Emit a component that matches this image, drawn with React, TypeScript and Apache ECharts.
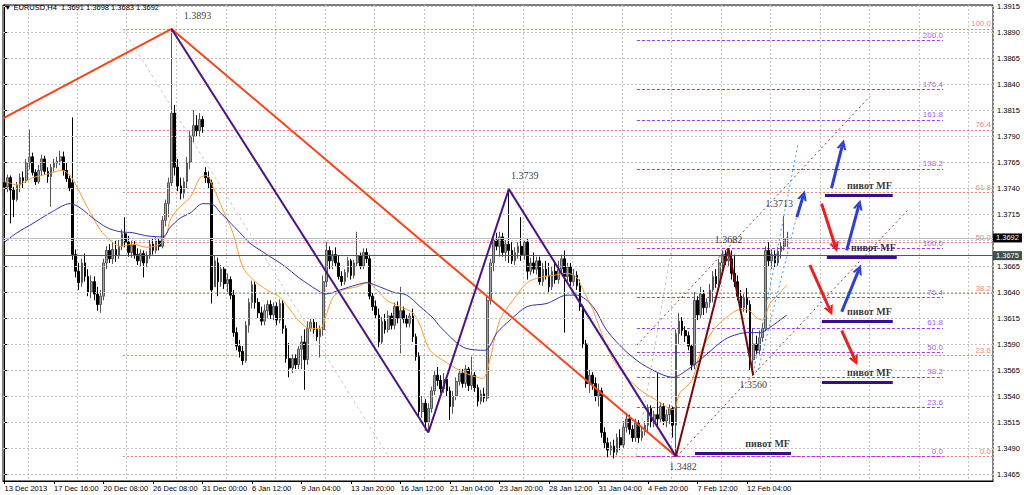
import React, { useEffect, useRef } from "react";
import * as echarts from "echarts";

// ---------- data ----------
const SYMBOL = "EURUSD,H4";
const TIME_LABELS = [
  "13 Dec 2013", "17 Dec 16:00", "20 Dec 08:00", "26 Dec 08:00", "31 Dec 00:00",
  "6 Jan 12:00", "9 Jan 04:00", "13 Jan 20:00", "16 Jan 12:00", "21 Jan 04:00",
  "23 Jan 20:00", "28 Jan 12:00", "31 Jan 04:00", "4 Feb 20:00", "7 Feb 12:00", "12 Feb 04:00",
];
const BARS_PER_LABEL = 16;
const SLOT_COUNT = 320;
const PRICE_TICKS = [
  1.3915, 1.389, 1.3865, 1.384, 1.3815, 1.379, 1.3765, 1.374, 1.3715, 1.369,
  1.3665, 1.364, 1.3615, 1.359, 1.3565, 1.354, 1.3515, 1.349, 1.3465,
];
const BID = 1.3692;
const HLINE = 1.3675;

// [open, close, low, high]
const CANDLES = [
  [1.3745,1.3741,1.3736,1.3748],[1.3741,1.3750,1.3736,1.3753],[1.3750,1.3738,1.3706,1.3752],[1.3738,1.3729,1.3712,1.3741],
  [1.3729,1.3743,1.3727,1.3746],[1.3743,1.3750,1.3736,1.3754],[1.3750,1.3747,1.3740,1.3756],[1.3747,1.3764,1.3745,1.3768],
  [1.3764,1.3770,1.3758,1.3796],[1.3770,1.3755,1.3752,1.3774],[1.3755,1.3746,1.3743,1.3758],[1.3746,1.3757,1.3744,1.3762],
  [1.3757,1.3768,1.3752,1.3772],[1.3768,1.3756,1.3753,1.3771],[1.3756,1.3751,1.3745,1.3760],[1.3751,1.3760,1.3722,1.3763],
  [1.3760,1.3764,1.3756,1.3768],[1.3764,1.3766,1.3759,1.3770],[1.3766,1.3770,1.3762,1.3776],[1.3770,1.3757,1.3752,1.3775],
  [1.3757,1.3749,1.3746,1.3764],[1.3749,1.3740,1.3737,1.3752],[1.3745,1.3676,1.3671,1.3808],[1.3676,1.3660,1.3654,1.3681],
  [1.3660,1.3649,1.3642,1.3668],[1.3649,1.3668,1.3645,1.3672],[1.3668,1.3655,1.3650,1.3677],[1.3655,1.3640,1.3636,1.3662],
  [1.3640,1.3650,1.3634,1.3656],[1.3650,1.3638,1.3632,1.3655],[1.3638,1.3628,1.3622,1.3645],[1.3628,1.3636,1.3620,1.3642],
  [1.3636,1.3668,1.3632,1.3672],[1.3668,1.3680,1.3662,1.3684],[1.3680,1.3672,1.3668,1.3686],[1.3672,1.3681,1.3667,1.3688],
  [1.3681,1.3675,1.3669,1.3690],[1.3675,1.3684,1.3672,1.3690],[1.3684,1.3696,1.3680,1.3700],[1.3696,1.3688,1.3683,1.3712],
  [1.3688,1.3678,1.3674,1.3694],[1.3678,1.3685,1.3673,1.3690],[1.3685,1.3676,1.3672,1.3689],[1.3676,1.3670,1.3666,1.3682],
  [1.3670,1.3677,1.3665,1.3681],[1.3677,1.3668,1.3654,1.3680],[1.3668,1.3675,1.3664,1.3679],[1.3675,1.3686,1.3672,1.3690],
  [1.3686,1.3680,1.3676,1.3691],[1.3680,1.3689,1.3677,1.3693],[1.3689,1.3684,1.3680,1.3692],[1.3684,1.3709,1.3682,1.3713],
  [1.3709,1.3725,1.3703,1.3729],[1.3725,1.3745,1.3712,1.3750],[1.3745,1.3812,1.3742,1.3893],[1.3812,1.3760,1.3752,1.3820],
  [1.3760,1.3742,1.3737,1.3768],[1.3742,1.3735,1.3729,1.3750],[1.3735,1.3746,1.3730,1.3750],[1.3746,1.3765,1.3740,1.3770],
  [1.3765,1.3790,1.3758,1.3795],[1.3790,1.3800,1.3784,1.3815],[1.3800,1.3795,1.3790,1.3810],[1.3795,1.3806,1.3789,1.3812],
  [1.3806,1.3799,1.3793,1.3809],[1.3755,1.3750,1.3745,1.3760],[1.3750,1.3745,1.3740,1.3756],[1.3745,1.3642,1.3629,1.3748],
  [1.3645,1.3670,1.3645,1.3675],[1.3668,1.3650,1.3636,1.3673],[1.3650,1.3662,1.3645,1.3666],[1.3662,1.3648,1.3643,1.3665],
  [1.3648,1.3652,1.3640,1.3658],[1.3652,1.3637,1.3633,1.3655],[1.3637,1.3601,1.3597,1.3642],[1.3601,1.3588,1.3584,1.3606],
  [1.3588,1.3583,1.3577,1.3594],[1.3583,1.3574,1.3570,1.3588],[1.3574,1.3608,1.3572,1.3612],[1.3608,1.3630,1.3601,1.3634],
  [1.3630,1.3647,1.3624,1.3651],[1.3647,1.3630,1.3624,1.3650],[1.3630,1.3620,1.3615,1.3634],[1.3620,1.3612,1.3608,1.3626],
  [1.3612,1.3622,1.3608,1.3628],[1.3622,1.3628,1.3614,1.3632],[1.3628,1.3618,1.3614,1.3632],[1.3618,1.3626,1.3613,1.3630],
  [1.3626,1.3613,1.3608,1.3630],[1.3613,1.3629,1.3610,1.3633],[1.3629,1.3605,1.3600,1.3632],[1.3605,1.3576,1.3572,1.3608],
  [1.3576,1.3567,1.3558,1.3591],[1.3567,1.3576,1.3562,1.3580],[1.3576,1.3570,1.3566,1.3580],[1.3570,1.3585,1.3566,1.3588],
  [1.3585,1.3592,1.3566,1.3598],[1.3592,1.3575,1.3546,1.3604],[1.3575,1.3605,1.3570,1.3612],[1.3605,1.3611,1.3602,1.3614],
  [1.3611,1.3604,1.3600,1.3614],[1.3604,1.3597,1.3593,1.3611],[1.3597,1.3604,1.3577,1.3608],[1.3604,1.3650,1.3598,1.3656],
  [1.3650,1.3680,1.3645,1.3688],[1.3680,1.3670,1.3662,1.3684],[1.3670,1.3676,1.3662,1.3680],[1.3676,1.3668,1.3664,1.3683],
  [1.3668,1.3655,1.3652,1.3675],[1.3655,1.3650,1.3646,1.3660],[1.3650,1.3659,1.3647,1.3662],[1.3659,1.3670,1.3654,1.3674],
  [1.3670,1.3656,1.3652,1.3672],[1.3656,1.3668,1.3653,1.3671],[1.3668,1.3675,1.3664,1.3698],[1.3675,1.3665,1.3662,1.3678],
  [1.3665,1.3678,1.3662,1.3682],[1.3678,1.3672,1.3668,1.3682],[1.3672,1.3636,1.3633,1.3676],[1.3636,1.3626,1.3622,1.3640],
  [1.3626,1.3618,1.3614,1.3632],[1.3618,1.3592,1.3587,1.3624],[1.3592,1.3612,1.3590,1.3616],[1.3612,1.3604,1.3600,1.3619],
  [1.3604,1.3617,1.3601,1.3622],[1.3617,1.3608,1.3604,1.3620],[1.3608,1.3626,1.3604,1.3630],[1.3626,1.3615,1.3610,1.3631],
  [1.3615,1.3622,1.3581,1.3645],[1.3622,1.3614,1.3610,1.3626],[1.3614,1.3610,1.3606,1.3618],[1.3610,1.3617,1.3606,1.3620],
  [1.3617,1.3597,1.3592,1.3624],[1.3597,1.3578,1.3574,1.3600],[1.3578,1.3525,1.3520,1.3582],[1.3525,1.3533,1.3519,1.3540],
  [1.3533,1.3515,1.3507,1.3537],[1.3515,1.3528,1.3505,1.3533],[1.3528,1.3545,1.3524,1.3549],[1.3545,1.3560,1.3541,1.3564],
  [1.3560,1.3555,1.3550,1.3568],[1.3555,1.3547,1.3543,1.3560],[1.3547,1.3556,1.3543,1.3562],[1.3556,1.3545,1.3540,1.3559],
  [1.3545,1.3530,1.3517,1.3549],[1.3530,1.3540,1.3523,1.3545],[1.3540,1.3554,1.3536,1.3558],[1.3554,1.3562,1.3550,1.3566],
  [1.3562,1.3552,1.3548,1.3566],[1.3552,1.3566,1.3548,1.3570],[1.3566,1.3550,1.3545,1.3568],[1.3550,1.3560,1.3546,1.3578],
  [1.3560,1.3548,1.3544,1.3563],[1.3548,1.3535,1.3530,1.3551],[1.3535,1.3542,1.3532,1.3546],[1.3542,1.3538,1.3534,1.3548],
  [1.3538,1.3632,1.3535,1.3636],[1.3632,1.3668,1.3628,1.3672],[1.3668,1.3690,1.3660,1.3695],[1.3690,1.3684,1.3680,1.3697],
  [1.3684,1.3693,1.3674,1.3698],[1.3693,1.3678,1.3674,1.3697],[1.3678,1.3686,1.3670,1.3690],[1.3686,1.3680,1.3668,1.3739],
  [1.3680,1.3670,1.3667,1.3688],[1.3670,1.3678,1.3666,1.3683],[1.3678,1.3684,1.3672,1.3688],[1.3684,1.3676,1.3670,1.3712],
  [1.3676,1.3688,1.3671,1.3690],[1.3688,1.3660,1.3652,1.3692],[1.3660,1.3668,1.3656,1.3673],[1.3668,1.3662,1.3658,1.3678],
  [1.3662,1.3670,1.3657,1.3674],[1.3670,1.3650,1.3647,1.3674],[1.3650,1.3662,1.3646,1.3668],[1.3662,1.3656,1.3652,1.3670],
  [1.3656,1.3645,1.3640,1.3668],[1.3645,1.3660,1.3642,1.3664],[1.3660,1.3652,1.3648,1.3668],[1.3652,1.3662,1.3648,1.3670],
  [1.3662,1.3672,1.3658,1.3676],[1.3672,1.3655,1.3601,1.3680],[1.3655,1.3664,1.3650,1.3668],[1.3664,1.3650,1.3646,1.3668],
  [1.3650,1.3656,1.3646,1.3662],[1.3656,1.3646,1.3642,1.3660],[1.3646,1.3626,1.3622,1.3652],[1.3626,1.3590,1.3586,1.3628],
  [1.3590,1.3552,1.3548,1.3594],[1.3552,1.3560,1.3543,1.3565],[1.3560,1.3552,1.3546,1.3563],[1.3552,1.3540,1.3535,1.3558],
  [1.3540,1.3545,1.3530,1.3552],[1.3545,1.3505,1.3500,1.3548],[1.3505,1.3495,1.3490,1.3510],[1.3495,1.3488,1.3481,1.3500],
  [1.3488,1.3492,1.3483,1.3496],[1.3492,1.3486,1.3480,1.3498],[1.3486,1.3500,1.3483,1.3504],[1.3500,1.3493,1.3488,1.3508],
  [1.3493,1.3510,1.3490,1.3516],[1.3510,1.3518,1.3505,1.3524],[1.3518,1.3508,1.3503,1.3522],[1.3508,1.3500,1.3496,1.3512],
  [1.3500,1.3514,1.3496,1.3518],[1.3514,1.3500,1.3495,1.3517],[1.3500,1.3506,1.3497,1.3510],[1.3506,1.3512,1.3502,1.3516],
  [1.3512,1.3528,1.3505,1.3532],[1.3528,1.3515,1.3510,1.3531],[1.3515,1.3522,1.3510,1.3526],[1.3522,1.3518,1.3510,1.3562],
  [1.3518,1.3530,1.3514,1.3534],[1.3530,1.3516,1.3512,1.3533],[1.3516,1.3522,1.3510,1.3527],[1.3522,1.3528,1.3513,1.3532],
  [1.3528,1.3512,1.3500,1.3530],[1.3512,1.3600,1.3482,1.3604],[1.3600,1.3612,1.3590,1.3620],[1.3612,1.3603,1.3598,1.3616],
  [1.3603,1.3598,1.3592,1.3607],[1.3598,1.3588,1.3584,1.3602],[1.3588,1.3570,1.3564,1.3590],[1.3570,1.3632,1.3566,1.3640],
  [1.3632,1.3618,1.3613,1.3636],[1.3618,1.3638,1.3614,1.3645],[1.3638,1.3625,1.3618,1.3642],[1.3625,1.3630,1.3620,1.3634],
  [1.3630,1.3642,1.3625,1.3648],[1.3642,1.3655,1.3630,1.3660],[1.3655,1.3648,1.3644,1.3662],[1.3648,1.3668,1.3645,1.3672],
  [1.3668,1.3676,1.3660,1.3680],[1.3676,1.3670,1.3666,1.3680],[1.3670,1.3672,1.3664,1.3682],[1.3672,1.3658,1.3652,1.3680],
  [1.3658,1.3650,1.3645,1.3676],[1.3650,1.3636,1.3632,1.3656],[1.3636,1.3625,1.3620,1.3642],[1.3625,1.3634,1.3621,1.3638],
  [1.3634,1.3628,1.3620,1.3644],[1.3628,1.3575,1.3565,1.3632],[1.3575,1.3590,1.3560,1.3605],[1.3590,1.3584,1.3580,1.3598],
  [1.3584,1.3596,1.3580,1.3603],[1.3596,1.3605,1.3592,1.3610],[1.3605,1.3680,1.3602,1.3684],[1.3680,1.3670,1.3665,1.3688],
  [1.3670,1.3676,1.3662,1.3681],[1.3676,1.3668,1.3664,1.3680],[1.3668,1.3679,1.3665,1.3683],[1.3679,1.3684,1.3672,1.3688],
  [1.3684,1.3691,1.3680,1.3713],[1.3691,1.3692,1.3683,1.3698],
];

// moving averages, [bar, price]
const ORANGE_MA = [
  [0,1.3747],[4,1.3743],[9.2,1.3750],[14.7,1.3754],[18.6,1.3757],[21.2,1.3752],[23.4,1.3741],[26.7,1.3722],
  [30.9,1.3700],[34.1,1.3690],[37.3,1.3684],[41.5,1.3686],[46,1.3683],[50.2,1.3686],[52.5,1.3697],[53.5,1.3709],
  [56.7,1.3722],[60,1.3731],[63.2,1.3750],[65.4,1.3752],[67.4,1.3741],[70.6,1.3719],[73.8,1.3697],[77,1.3664],
  [80.3,1.3652],[84.8,1.3642],[89,1.3635],[92.3,1.3623],[95.5,1.3611],[98.7,1.3605],[102,1.3605],[104.2,1.3620],
  [106.2,1.3635],[109.4,1.3642],[113.9,1.3645],[117.1,1.3649],[120.4,1.3642],[123.6,1.3632],[127.8,1.3626],
  [132,1.3620],[134.3,1.3608],[137.5,1.3584],[143,1.3572],[148.2,1.3563],[154.6,1.3557],[156.3,1.3568],
  [160.1,1.3613],[164.3,1.3632],[168.9,1.3649],[173.1,1.3654],[177.3,1.3656],[181.8,1.3658],[185,1.3654],
  [187,1.3642],[190.2,1.3623],[193.4,1.3597],[196.7,1.3575],[201.2,1.3558],[205.4,1.3546],[209.6,1.3538],
  [216.1,1.3527],[218.3,1.3543],[222.2,1.3555],[224.8,1.3581],[229,1.3603],[233.5,1.3616],[237.7,1.3623],
  [240,1.3623],[243.2,1.3615],[245.1,1.3613],[247.4,1.3629],[250.6,1.3639],[252.9,1.3647],
];
const BLUE_MA = [
  [0,1.3688],[4,1.3697],[9.2,1.3706],[14.7,1.3716],[21.2,1.3725],[24.4,1.3721],[28.6,1.3711],[33.1,1.3702],
  [37.3,1.3698],[41.5,1.3697],[46,1.3694],[51.2,1.3693],[53.5,1.3702],[56.7,1.3711],[60,1.3716],[64.1,1.3725],
  [67.4,1.3724],[69.6,1.3717],[76.1,1.3697],[79.3,1.3687],[84.8,1.3676],[90,1.3666],[95.5,1.3653],[101,1.3642],
  [103.6,1.3638],[108.4,1.3642],[113.9,1.3647],[117.1,1.3649],[121.3,1.3645],[125.5,1.3640],[130,1.3637],
  [134.3,1.3626],[138.5,1.3615],[140.7,1.3607],[148.2,1.3587],[155.3,1.3584],[159.2,1.3601],[163.4,1.3613],
  [168.9,1.3626],[175.3,1.3629],[181.8,1.3637],[185,1.3637],[190.2,1.3626],[194.7,1.3603],[201.2,1.3582],
  [207.6,1.3568],[216.1,1.3558],[220.6,1.3565],[225.7,1.3577],[231.2,1.3591],[234.5,1.3597],[240,1.3601],
  [244.2,1.3601],[247.4,1.3606],[252.9,1.3618],
];

// zigzags, [bar, price]
const RED_ZIGZAG = [[-0.5, 1.3807], [54, 1.3893], [217, 1.3482]];
const PURPLE_ZIGZAG = [[54, 1.3893], [137, 1.3505], [163, 1.3739], [217, 1.3482]];
const MAROON_ZIGZAG = [[217, 1.3482], [234, 1.3682], [242, 1.356]];
const SWING_POINTS = [[54, 1.3893], [163, 1.3739], [252, 1.3713], [234, 1.3682], [242, 1.356], [217, 1.3482]];

// fibonacci tools
const RED_FIB_ANCHORS = [1.3482, 1.3893];
const RED_FIB_LEVELS = [0, 23.6, 38.2, 50, 61.8, 76.4, 100];
const RED_FIB_BARS = [38.3, 319.5];
const RED_FIB_DIAGONAL = [[38.3, 1.3893], [124, 1.3482]];
const PURPLE_FIB_ANCHORS = [1.3482, 1.3682];
const PURPLE_FIB_LEVELS = [0, 23.6, 38.2, 50, 61.8, 76.4, 100, 138.2, 161.8, 176.4, 200];
const PURPLE_FIB_BARS = [204.4, 303.3];
const PURPLE_FIB_DIAGONAL = [[204.1, 1.3482], [215.6, 1.3682]];

// channels and arrows, [[bar, price], [bar, price]]
const MAROON_CHANNEL = [
  [[204.4, 1.3589], [279.7, 1.3828]],
  [[217.3, 1.3482], [292, 1.3719]],
];
const BLUE_CHANNEL = [
  [[242, 1.3562], [256.5, 1.3783]],
  [[243.6, 1.3565], [256, 1.3712]],
];
const BLUE_ARROWS = [
  [[256.1, 1.3712], [258.2, 1.3733]],
  [[267.3, 1.374], [270.9, 1.3782]],
  [[272.2, 1.368], [276.2, 1.3724]],
  [[270.6, 1.3621], [276.2, 1.3662]],
];
const RED_ARROWS = [
  [[264.1, 1.3725], [268.6, 1.3683]],
  [[260.3, 1.3666], [266.9, 1.3622]],
  [[270.6, 1.3603], [275.0, 1.3574]],
];
// pivot lines: [fromBar, toBar, price]
const PIVOTS = [
  [265.2, 287.1, 1.3733],
  [265.8, 288.4, 1.3673],
  [264.2, 287.1, 1.3612],
  [264.2, 287.1, 1.3553],
  [223.2, 254.2, 1.3485],
];
const PIVOT_TEXT = "пивот MF";

// ---------- layout / style ----------
const Y_MIN = 1.34583;
const Y_MAX = 1.3916;
const SANS = "'Liberation Sans', Arial, sans-serif";
const SERIF = "'Liberation Serif', 'Times New Roman', serif";
const SWING_OFFSETS = [[26, -13], [16, -14], [-5, -13], [0, -9], [0, 9], [7, 10]];

const fibPrice = (a: number[], lvl: number) => a[0] + ((a[1] - a[0]) * lvl) / 100;

function buildOption() {
  const last = CANDLES[CANDLES.length - 1];
  const header = `▼ ${SYMBOL}  ${last[0].toFixed(4)} ${last[3].toFixed(4)} ${last[2].toFixed(4)} ${last[1].toFixed(4)}`;
  const labelTicks = PRICE_TICKS.filter((v) => Math.abs(v - BID) > 0.0005);
  const labelInterval = (i: number) => i % BARS_PER_LABEL === 0 && i / BARS_PER_LABEL < TIME_LABELS.length;

  const textPoint = (b: number, p: number, text: string, offset: number[], style: any) => ({
    value: [b, p],
    label: { show: true, formatter: text, offset, ...style },
  });

  const priceBox = (v: number, bg: string) => ({
    show: true, position: "end", distance: 0, formatter: v.toFixed(4), color: "#fff",
    backgroundColor: bg, padding: [1, 3, 0, 3], fontSize: 7.5, fontFamily: SANS,
  });

  const ov = { xAxisIndex: 1, yAxisIndex: 0 };

  return {
    animation: false,
    backgroundColor: "#ffffff",
    title: {
      text: header,
      left: 4,
      top: 3,
      padding: 0,
      textStyle: { fontSize: 7.5, fontWeight: "normal", fontFamily: SANS, color: "#000" },
    },
    grid: { left: 3, right: 31, top: 5, bottom: 14, show: true, borderColor: "#000", borderWidth: 1, backgroundColor: "#fff" },
    xAxis: [
      {
        type: "category",
        data: Array.from({ length: SLOT_COUNT }, (_, i) => String(i)),
        boundaryGap: true,
        axisLine: { show: true, lineStyle: { color: "#000", width: 1 } },
        axisTick: { show: true, interval: labelInterval, alignWithLabel: true, length: 3, lineStyle: { color: "#000" } },
        axisLabel: {
          interval: labelInterval,
          formatter: (_v: string, i: number) => TIME_LABELS[i / BARS_PER_LABEL] ?? "",
          align: "left",
          margin: 3,
          fontSize: 7.5,
          fontFamily: SANS,
          color: "#000",
        },
        splitLine: {
          show: true,
          interval: (i: number) => i % BARS_PER_LABEL === BARS_PER_LABEL / 2,
          lineStyle: { color: "#c4c4c4", type: [2, 2], width: 1 },
        },
      },
      { type: "value", min: -0.5, max: SLOT_COUNT - 0.5, show: false },
    ],
    yAxis: {
      type: "value",
      position: "right",
      min: Y_MIN,
      max: Y_MAX,
      axisLine: { show: true, lineStyle: { color: "#000" } },
      axisTick: { show: true, customValues: labelTicks, length: 3, lineStyle: { color: "#000" } },
      axisLabel: {
        customValues: labelTicks,
        formatter: (v: number) => v.toFixed(4),
        fontSize: 7.5,
        fontFamily: SANS,
        color: "#000",
        margin: 4,
      },
      splitLine: { show: false },
    },
    series: [
      // horizontal grid lines
      {
        type: "line",
        ...ov,
        data: [],
        silent: true,
        z: 0,
        markLine: {
          silent: true,
          precision: 5,
          symbol: ["none", "none"],
          animation: false,
          label: { show: false },
          lineStyle: { color: "#c4c4c4", type: [2, 2], width: 1 },
          data: PRICE_TICKS.map((v) => ({ yAxis: v })),
        },
      },
      // bid line and horizontal object line with their price boxes
      {
        type: "line",
        ...ov,
        data: [],
        silent: true,
        z: 2,
        markLine: {
          silent: true,
          precision: 5,
          symbol: ["none", "none"],
          animation: false,
          data: [
            { yAxis: BID, lineStyle: { color: "#c0c0c0", type: "solid", width: 1 }, label: priceBox(BID, "#000000") },
            { yAxis: HLINE, lineStyle: { color: "#4c5c5c", type: "solid", width: 1 }, label: priceBox(HLINE, "#3e5050") },
          ],
        },
      },
      // red fib
      {
        type: "lines",
        coordinateSystem: "cartesian2d",
        ...ov,
        z: 1,
        silent: true,
        lineStyle: { color: "#f77f6c", type: [2, 2], width: 1, opacity: 1 },
        data: RED_FIB_LEVELS.map((l) => ({
          coords: [[RED_FIB_BARS[0], fibPrice(RED_FIB_ANCHORS, l)], [RED_FIB_BARS[1], fibPrice(RED_FIB_ANCHORS, l)]],
        })),
      },
      {
        type: "lines",
        coordinateSystem: "cartesian2d",
        ...ov,
        z: 1,
        silent: true,
        lineStyle: { color: "#c8c8c8", type: [3, 3], width: 1, opacity: 1 },
        data: [{ coords: RED_FIB_DIAGONAL }, { coords: PURPLE_FIB_DIAGONAL }],
      },
      // purple fib
      {
        type: "lines",
        coordinateSystem: "cartesian2d",
        ...ov,
        z: 1,
        silent: true,
        lineStyle: { color: "#a437f0", type: [3, 2], width: 1, opacity: 1 },
        data: PURPLE_FIB_LEVELS.map((l) => ({
          coords: [[PURPLE_FIB_BARS[0], fibPrice(PURPLE_FIB_ANCHORS, l)], [PURPLE_FIB_BARS[1], fibPrice(PURPLE_FIB_ANCHORS, l)]],
        })),
      },
      // fib labels
      {
        type: "scatter",
        ...ov,
        symbolSize: 0,
        silent: true,
        z: 2,
        data: [
          ...RED_FIB_LEVELS.map((l) =>
            textPoint(RED_FIB_BARS[1], fibPrice(RED_FIB_ANCHORS, l), l.toFixed(1), [-2, -5], {
              position: "inside", align: "right", verticalAlign: "middle", color: "#f0604a", fontSize: 8, fontFamily: SANS,
            })
          ),
          ...PURPLE_FIB_LEVELS.map((l) =>
            textPoint(PURPLE_FIB_BARS[1], fibPrice(PURPLE_FIB_ANCHORS, l), l.toFixed(1), [0, -5], {
              position: "inside", align: "right", verticalAlign: "middle", color: "#8e1fe8", fontSize: 8, fontFamily: SANS,
            })
          ),
        ],
      },
      // candles
      {
        type: "candlestick",
        xAxisIndex: 0,
        yAxisIndex: 0,
        barWidth: 2.2,
        z: 3,
        data: CANDLES,
        itemStyle: { color: "#a4a4a4", color0: "#000000", borderColor: "#555555", borderColor0: "#000000", borderWidth: 1 },
      },
      // moving averages
      {
        type: "line", ...ov, data: ORANGE_MA, showSymbol: false, smooth: 0.3, silent: true, z: 4,
        lineStyle: { color: "#ff9a26", width: 1 },
      },
      {
        type: "line", ...ov, data: BLUE_MA, showSymbol: false, smooth: 0.3, silent: true, z: 4,
        lineStyle: { color: "#3333a6", width: 1 },
      },
      // zigzags
      {
        type: "line", ...ov, data: RED_ZIGZAG, showSymbol: false, silent: true, z: 5,
        lineStyle: { color: "#ff4214", width: 2 },
      },
      {
        type: "line", ...ov, data: PURPLE_ZIGZAG, showSymbol: false, silent: true, z: 5,
        lineStyle: { color: "#4a148c", width: 2 },
      },
      {
        type: "line", ...ov, data: MAROON_ZIGZAG, showSymbol: false, silent: true, z: 5,
        lineStyle: { color: "#7a0a0a", width: 2 },
      },
      // channels
      {
        type: "lines", coordinateSystem: "cartesian2d", ...ov, z: 5, silent: true,
        lineStyle: { color: "#a33a3a", type: [2, 3], width: 1, opacity: 1 },
        data: MAROON_CHANNEL.map((c) => ({ coords: c })),
      },
      {
        type: "lines", coordinateSystem: "cartesian2d", ...ov, z: 5, silent: true,
        lineStyle: { color: "#3d9cff", type: [2, 3], width: 1, opacity: 1 },
        data: BLUE_CHANNEL.map((c) => ({ coords: c })),
      },
      // arrows
      {
        type: "lines", coordinateSystem: "cartesian2d", ...ov, z: 6, silent: true,
        symbol: ["none", "path://M0,10L5,0L10,10L7.6,10L5,4.6L2.4,10Z"], symbolSize: 10,
        lineStyle: { color: "#2c3fd8", width: 3, opacity: 1 },
        data: BLUE_ARROWS.map((c) => ({ coords: c })),
      },
      {
        type: "lines", coordinateSystem: "cartesian2d", ...ov, z: 6, silent: true,
        symbol: ["none", "path://M0,10L5,0L10,10L7.6,10L5,4.6L2.4,10Z"], symbolSize: 10,
        lineStyle: { color: "#ee1c1c", width: 3, opacity: 1 },
        data: RED_ARROWS.map((c) => ({ coords: c })),
      },
      // pivot lines
      {
        type: "lines", coordinateSystem: "cartesian2d", ...ov, z: 6, silent: true,
        lineStyle: { color: "#3a0c8e", width: 3, opacity: 1 },
        data: PIVOTS.map((p) => ({ coords: [[p[0], p[2]], [p[1], p[2]]] })),
      },
      // texts
      {
        type: "scatter",
        ...ov,
        symbolSize: 0,
        silent: true,
        z: 7,
        data: [
          ...PIVOTS.map((p) =>
            textPoint(p[1], p[2], PIVOT_TEXT, [-1, -10], {
              position: "inside", align: "right", verticalAlign: "middle", color: "#000",
              fontSize: 10, fontWeight: "bold", fontFamily: SERIF,
            })
          ),
          ...SWING_POINTS.map((p, i) =>
            textPoint(p[0], p[1], p[1].toFixed(4), SWING_OFFSETS[i], {
              position: "inside", align: "center", verticalAlign: "middle", color: "#000",
              fontSize: 10, fontFamily: SERIF,
            })
          ),
        ],
      },
    ],
  };
}

export default function App() {
  const ref = useRef<HTMLDivElement>(null);
  useEffect(() => {
    if (!ref.current) return;
    const chart = echarts.init(ref.current, null, { renderer: "svg" });
    chart.setOption(buildOption() as any);
    return () => chart.dispose();
  }, []);
  return (
    <div
      ref={ref}
      style={{ position: "fixed", left: 0, top: 0, width: 1024, height: 495, background: "#fff" }}
    />
  );
}
